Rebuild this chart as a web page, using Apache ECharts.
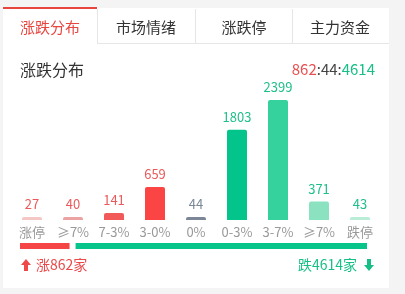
<!DOCTYPE html>
<html><head><meta charset="utf-8">
<script src="https://cdn.jsdelivr.net/npm/echarts@6/dist/echarts.min.js"></script>
<style>html,body{margin:0;padding:0;background:#f4f4f5;}#c{width:405px;height:294px;}</style>
</head><body><div id="c"></div>
<script>
var categories = ['涨停','≥7%','7-3%','3-0%','0%','0-3%','3-7%','≥7%','跌停'];
var counts = [27, 40, 141, 659, 44, 1803, 2399, 371, 43];
var barColors = ['#f4c6c6','#eca2a2','#f25a5a','#fb4545','#7b8797','#03c58b','#35d29e','#8ae2c1','#b8ecd7'];
var labelColors = ['#ea5a5a','#ea5a5a','#ea5a5a','#ea5a5a','#7b8797','#1fbf8b','#1fbf8b','#1fbf8b','#1fbf8b'];
var tabs = ['涨跌分布','市场情绪','涨跌停','主力资金'];
var upTotal = 862, flatTotal = 44, downTotal = 4614;

var FONT = '"Noto Sans CJK SC", "Noto Sans", sans-serif';
var RED = '#e8453f', GREEN = '#17bf87';
var chart = echarts.init(document.getElementById('c'));

var graphics = [
  {type:'rect', shape:{x:3,y:8,width:386,height:280}, style:{fill:'#fff'}, z:-10},
  {type:'rect', shape:{x:3,y:7,width:94,height:2}, style:{fill:RED}},
  {type:'line', shape:{x1:97.5,y1:9,x2:97.5,y2:43}, style:{stroke:'#e6e6e6',lineWidth:1}},
  {type:'line', shape:{x1:195.5,y1:9,x2:195.5,y2:43}, style:{stroke:'#e6e6e6',lineWidth:1}},
  {type:'line', shape:{x1:292.5,y1:9,x2:292.5,y2:43}, style:{stroke:'#e6e6e6',lineWidth:1}},
  {type:'line', shape:{x1:97,y1:43.5,x2:389,y2:43.5}, style:{stroke:'#e6e6e6',lineWidth:1}},
  {type:'text', x:20, y:70, style:{text:'涨跌分布', font:'16px '+FONT, fill:'#333', textVerticalAlign:'middle'}},
  {type:'text', x:375, y:69, style:{text:'{r|'+upTotal+'}{d|:'+flatTotal+':}{g|'+downTotal+'}', font:'15px '+FONT, textAlign:'right', textVerticalAlign:'middle',
     rich:{r:{fill:'#ea5050',font:'15px '+FONT}, d:{fill:'#444',font:'15px '+FONT}, g:{fill:GREEN,font:'15px '+FONT}}}},
  {type:'polygon', shape:{points:[[26,259],[21,265],[24,265],[24,271],[28,271],[28,265],[31,265]]}, style:{fill:'#f04848'}},
  {type:'text', x:36, y:265, style:{text:'涨'+upTotal+'家', font:'14px '+FONT, fill:'#ea4a4a', textVerticalAlign:'middle'}},
  {type:'polygon', shape:{points:[[369,271],[364,265],[367,265],[367,259],[371,259],[371,265],[374,265]]}, style:{fill:GREEN}},
  {type:'text', x:357, y:265, style:{text:'跌'+downTotal+'家', font:'14px '+FONT, fill:GREEN, textAlign:'right', textVerticalAlign:'middle'}}
];
var tabCenters = [50, 146, 244, 340];
tabs.forEach(function(t,i){
  graphics.push({type:'text', x:tabCenters[i], y:27, style:{text:t, font:'15px '+FONT, fill: i===0?RED:'#333', textAlign:'center', textVerticalAlign:'middle'}});
});

var splitData = [
  {value:[0, upTotal], color:'#f54545'},
  {value:[upTotal, upTotal+downTotal], color:'#07c48a'}
];

chart.setOption({
  animation:false,
  textStyle:{fontFamily:FONT},
  graphic: graphics,
  grid:[
    {left:11.5, right:24.5, top:100, bottom:74},
    {left:17, right:35, top:243, height:6}
  ],
  xAxis:[
    {type:'category', gridIndex:0, data:categories, axisLine:{show:false}, axisTick:{show:false},
     axisLabel:{color:'#999', fontSize:13, margin:6, interval:0, fontFamily:FONT}},
    {type:'value', gridIndex:1, min:0, max:upTotal+downTotal, show:false}
  ],
  yAxis:[
    {type:'value', gridIndex:0, min:0, max:2399, show:false},
    {type:'value', gridIndex:1, min:0, max:1, show:false}
  ],
  series:[
    {type:'bar', xAxisIndex:0, yAxisIndex:0, barWidth:20, barMinHeight:3,
     data: counts.map(function(v,i){return {value:v, itemStyle:{color:barColors[i], borderRadius:[2,2,0,0]},
        label:{color:labelColors[i]}};}),
     label:{show:true, position:'top', distance:6, fontSize:13, fontFamily:FONT}},
    {type:'custom', xAxisIndex:1, yAxisIndex:1,
     data: splitData,
     renderItem:function(params, api){
       var a = api.coord([api.value(0), 1]);
       var b = api.coord([api.value(1), 0]);
       var x0 = a[0] + 3, x1 = b[0] - 3;
       return {type:'rect', shape:{x:x0, y:a[1], width:x1-x0, height:b[1]-a[1]},
               style:{fill: splitData[params.dataIndex].color}};
     }}
  ]
});
</script></body></html>
